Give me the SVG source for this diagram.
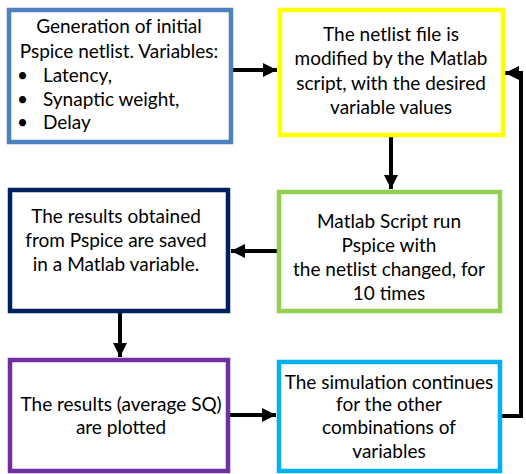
<svg xmlns="http://www.w3.org/2000/svg" width="526" height="474" viewBox="0 0 526 474">
<defs>
<style>
.box{fill:#ffffff;stroke-width:4.5}
.t{font-family:Lato,"Liberation Sans",sans-serif;font-size:19px;fill:#000000;text-anchor:middle}
.l{text-anchor:start}
.c{fill:none;stroke:#000000;stroke-width:4}
</style>
<marker id="ah" markerUnits="userSpaceOnUse" markerWidth="15" markerHeight="14" refX="14" refY="7" orient="auto">
<path d="M0,0 L14,7 L0,14 z" fill="#000000"/>
</marker>
</defs>
<rect width="526" height="474" fill="#ffffff"/>
<g id="connectors">
<line class="c" x1="233" y1="70" x2="277" y2="70" marker-end="url(#ah)"/>
<line class="c" x1="391" y1="137" x2="391" y2="189" marker-end="url(#ah)"/>
<line class="c" x1="277" y1="251" x2="231" y2="251" marker-end="url(#ah)"/>
<line class="c" x1="120" y1="313" x2="120" y2="357" marker-end="url(#ah)"/>
<line class="c" x1="230" y1="415" x2="276" y2="415" marker-end="url(#ah)"/>
<polyline class="c" points="502,416 521,416 521,73 505,73" marker-end="url(#ah)"/>
</g>
<g id="node1">
<rect class="box" x="9" y="10" width="222" height="132" stroke="#4F81BD"/>
<text class="t" x="119" y="33">Generation of initial</text>
<text class="t" x="119" y="58">Pspice netlist. Variables:</text>
<text class="t l" x="17" y="82">•</text>
<text class="t l" x="43" y="82">Latency,</text>
<text class="t l" x="17" y="106">•</text>
<text class="t l" x="43" y="106">Synaptic weight,</text>
<text class="t l" x="17" y="129">•</text>
<text class="t l" x="43" y="129">Delay</text>
</g>
<g id="node2">
<rect class="box" x="280" y="10" width="223" height="125" stroke="#FFFF00"/>
<text class="t" x="391" y="41">The netlist file is</text>
<text class="t" x="391" y="65">modified by the Matlab</text>
<text class="t" x="391" y="90">script, with the desired</text>
<text class="t" x="391" y="114">variable values</text>
</g>
<g id="node3">
<rect class="box" x="279" y="192" width="221" height="119" stroke="#92D050"/>
<text class="t" x="389" y="228">Matlab Script run</text>
<text class="t" x="389" y="252">Pspice with</text>
<text class="t" x="389" y="276">the netlist changed, for</text>
<text class="t" x="389" y="300">10 times</text>
</g>
<g id="node4">
<rect class="box" x="10" y="190" width="218" height="121" stroke="#002060"/>
<text class="t" x="116" y="223">The results obtained</text>
<text class="t" x="116" y="247">from Pspice are saved</text>
<text class="t" x="116" y="271">in a Matlab variable.</text>
</g>
<g id="node5">
<rect class="box" x="10" y="360" width="218" height="111" stroke="#7030A0"/>
<text class="t" x="121" y="411">The results (average SQ)</text>
<text class="t" x="121" y="434">are plotted</text>
</g>
<g id="node6">
<rect class="box" x="279" y="362" width="221" height="109" stroke="#00B0F0"/>
<text class="t" x="389" y="389">The simulation continues</text>
<text class="t" x="389" y="411">for the other</text>
<text class="t" x="389" y="434">combinations of</text>
<text class="t" x="389" y="458">variables</text>
</g>
</svg>
